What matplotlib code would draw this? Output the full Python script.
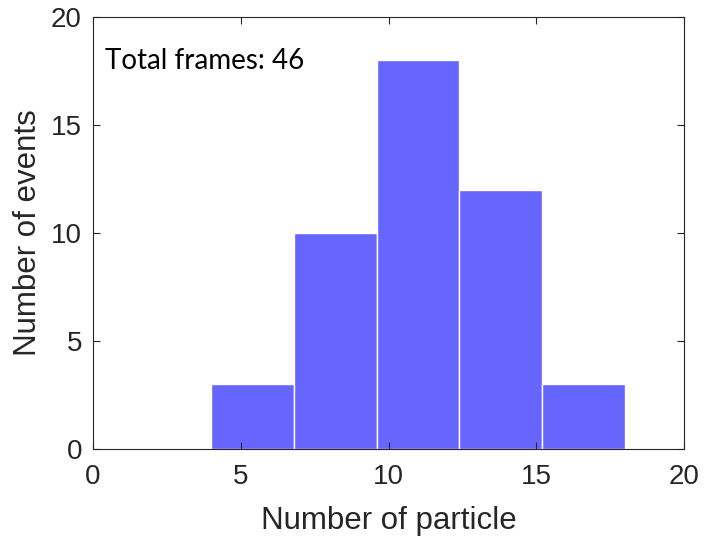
import matplotlib.pyplot as plt
import numpy as np

# histogram data
bin_edges = [4.0, 6.8, 9.6, 12.4, 15.2, 18.0]
counts = [3, 10, 18, 12, 3]
total_frames = 46

plt.rcParams['font.family'] = ['Liberation Sans', 'DejaVu Sans']

fig = plt.figure(figsize=(7.04, 5.46), dpi=100)
ax = fig.add_axes([0.1321, 0.1777, 0.8395, 0.7912])

ax.bar(bin_edges[:-1], counts, width=np.diff(bin_edges), align='edge',
       color='#6666ff', edgecolor='white', linewidth=1)

ax.set_xlim(0, 20)
ax.set_ylim(0, 20)
ax.set_xticks([0, 5, 10, 15, 20])
ax.set_yticks([0, 5, 10, 15, 20])
ax.tick_params(direction='in', length=5, width=0.8, top=True, right=True,
               labelsize=20, colors='#262626')
ax.tick_params(axis='x', pad=11)
ax.tick_params(axis='y', pad=8)
for s in ax.spines.values():
    s.set_color('#262626')
    s.set_linewidth(0.8)

ax.set_xlabel('Number of particle', fontsize=22.5, color='#262626', labelpad=11)
ax.set_ylabel('Number of events', fontsize=22.5, color='#262626', labelpad=6)
ax.text(0.02, 0.88, 'Total frames: %d' % total_frames, transform=ax.transAxes,
        fontsize=20, family=['Lato', 'DejaVu Sans'], color='black',
        va='baseline')

fig.savefig('out.png', dpi=100)
